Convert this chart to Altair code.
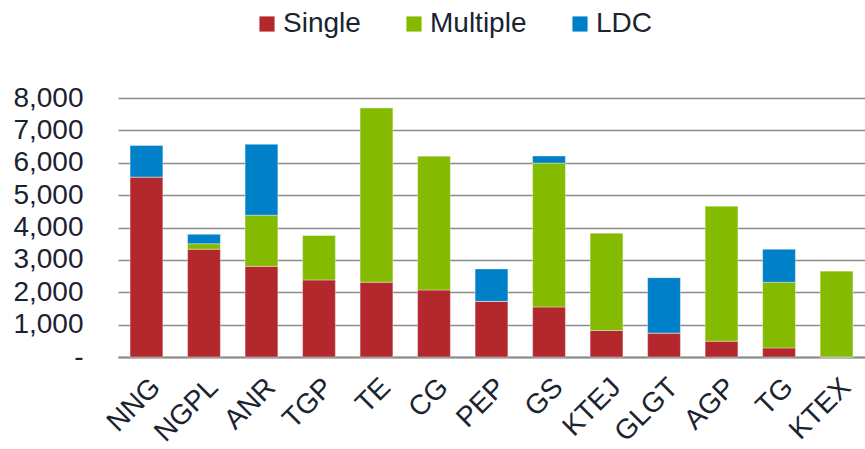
import altair as alt
import pandas as pd

categories = ["NNG", "NGPL", "ANR", "TGP", "TE", "CG", "PEP", "GS", "KTEJ", "GLGT", "AGP", "TG", "KTEX"]
single = [5560, 3330, 2800, 2380, 2310, 2070, 1720, 1545, 820, 740, 490, 280, 0]
multiple = [0, 170, 1580, 1380, 5390, 4140, 0, 4445, 3010, 0, 4175, 2030, 2660]
ldc = [970, 290, 2190, 0, 0, 0, 1000, 220, 0, 1710, 0, 1020, 0]
series = ["Single", "Multiple", "LDC"]
colors = ["#B3282D", "#84BB00", "#0080C8"]
y_ticks = [0, 1000, 2000, 3000, 4000, 5000, 6000, 7000, 8000]

rows = []
for i, c in enumerate(categories):
    for k, (s, vals) in enumerate(zip(series, [single, multiple, ldc])):
        rows.append({"cat": c, "series": s, "value": vals[i], "ord": k})
df = pd.DataFrame(rows)

FONT = "Liberation Sans"
TXT = "#1a2330"

chart = alt.Chart(df).mark_bar(stroke="#ffffff", strokeWidth=0.6, strokeOpacity=0.6).encode(
    x=alt.X("cat:N", sort=categories, title=None,
            scale=alt.Scale(paddingInner=0.43, paddingOuter=0.21),
            axis=alt.Axis(labelAngle=-45, labelFontSize=28, labelFont=FONT, labelColor=TXT,
                          ticks=False, domainColor="#8c8c8c", domainWidth=2,
                          labelPadding=16, labelAlign="right", labelBaseline="top")),
    y=alt.Y("value:Q", stack="zero", title=None,
            scale=alt.Scale(domain=[0, 8000], nice=False),
            axis=alt.Axis(values=y_ticks, labelFontSize=28, labelFont=FONT, labelColor=TXT,
                          labelExpr="datum.value == 0 ? '-\u00a0\u00a0' : format(datum.value, ',')",
                          ticks=False, domain=False, gridColor="#8c8c8c", gridWidth=1.5,
                          labelPadding=35)),
    color=alt.Color("series:N", sort=series,
                    scale=alt.Scale(domain=series, range=colors),
                    legend=alt.Legend(title=None, orient="none", direction="horizontal",
                                      legendX=135, legendY=-88,
                                      symbolType="square", symbolSize=230, symbolStrokeWidth=0,
                                      labelFontSize=28, labelFont=FONT, labelColor=TXT,
                                      columnPadding=39, labelOffset=2)),
    order=alt.Order("ord:Q"),
).properties(
    width=747, height=259,
    padding={"left": 118, "top": 98, "right": 0, "bottom": 92},
    autosize=alt.AutoSizeParams(type="none"),
).configure_view(stroke=None).configure_axisX(grid=False)

chart.save("out.html", embed_options={"renderer": "svg", "actions": False})
